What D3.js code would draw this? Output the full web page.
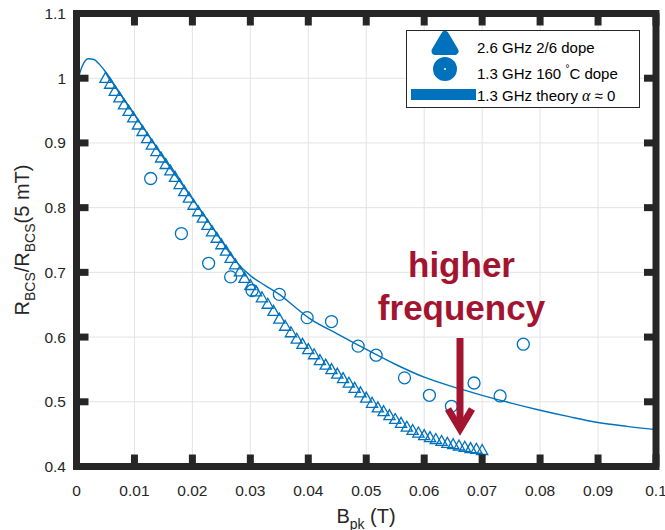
<!DOCTYPE html>
<html>
<head>
<meta charset="utf-8">
<script src="https://cdn.jsdelivr.net/npm/d3@7"></script>
<style>
  body { margin: 0; background: #fff; }
  svg { display: block; font-family: "Liberation Sans", Arial, Helvetica, sans-serif; }
</style>
</head>
<body>
<svg id="chart" width="665" height="530"></svg>
<script>
// Axis ticks
const xTicks = [0, 0.01, 0.02, 0.03, 0.04, 0.05, 0.06, 0.07, 0.08, 0.09, 0.1];
const xTickLabels = ["0", "0.01", "0.02", "0.03", "0.04", "0.05", "0.06", "0.07", "0.08", "0.09", "0.1"];
const yTicks = [0.4, 0.5, 0.6, 0.7, 0.8, 0.9, 1.0, 1.1];
const yTickLabels = ["0.4", "0.5", "0.6", "0.7", "0.8", "0.9", "1", "1.1"];

// 2.6 GHz 2/6 dope: peak field (T) and normalised R_BCS
const triB = [0.0050, 0.0058, 0.0066, 0.0074, 0.0082, 0.0090, 0.0098, 0.0106, 0.0114, 0.0122,
              0.0130, 0.0138, 0.0146, 0.0154, 0.0162, 0.0170, 0.0178, 0.0186, 0.0194, 0.0202,
              0.0210, 0.0218, 0.0226, 0.0234, 0.0242, 0.0250, 0.0258, 0.0266, 0.0274, 0.0282,
              0.0290, 0.030, 0.031, 0.032, 0.033, 0.034, 0.035, 0.036, 0.037, 0.038,
              0.039, 0.040, 0.041, 0.042, 0.043, 0.044, 0.045, 0.046, 0.047, 0.048,
              0.049, 0.050, 0.051, 0.052, 0.053, 0.054, 0.055, 0.056, 0.057, 0.058,
              0.059, 0.060, 0.061, 0.062, 0.063, 0.064, 0.065, 0.066, 0.067, 0.068,
              0.069, 0.070];
const triR = [1.000, 0.991, 0.980, 0.970, 0.959, 0.949, 0.939, 0.928, 0.918, 0.907,
              0.897, 0.887, 0.877, 0.867, 0.857, 0.847, 0.836, 0.825, 0.815, 0.804,
              0.794, 0.784, 0.773, 0.763, 0.753, 0.743, 0.733, 0.722, 0.712, 0.701,
              0.691, 0.680, 0.670, 0.661, 0.651, 0.640, 0.628, 0.617, 0.607, 0.597,
              0.589, 0.581, 0.573, 0.564, 0.557, 0.550, 0.543, 0.536, 0.529, 0.521,
              0.514, 0.506, 0.498, 0.491, 0.485, 0.479, 0.473, 0.467, 0.461, 0.456,
              0.452, 0.448, 0.445, 0.442, 0.439, 0.436, 0.434, 0.432, 0.430, 0.428,
              0.427, 0.425];

// 1.3 GHz 160 C dope
const circB = [0.0128, 0.0181, 0.0228, 0.0266, 0.0303, 0.0350, 0.0398, 0.0440,
               0.0486, 0.0517, 0.0566, 0.0609, 0.0647, 0.0686, 0.0731, 0.0771];
const circR = [0.845, 0.760, 0.714, 0.693, 0.672, 0.666, 0.630, 0.624,
               0.586, 0.572, 0.537, 0.510, 0.493, 0.529, 0.509, 0.589];

// 1.3 GHz theory, alpha ~ 0
const theoryB = [0, 0.001, 0.002, 0.003, 0.004, 0.005, 0.0075, 0.010, 0.0125, 0.015,
                 0.0175, 0.020, 0.0225, 0.025, 0.0275, 0.030, 0.0325, 0.035, 0.0375, 0.040,
                 0.045, 0.050, 0.055, 0.060, 0.065, 0.070, 0.075, 0.080, 0.085, 0.090,
                 0.095, 0.100];
const theoryR = [0.990, 1.019, 1.030, 1.029, 1.021, 1.010, 0.977, 0.944, 0.911, 0.877,
                 0.845, 0.814, 0.782, 0.749, 0.717, 0.695, 0.680, 0.666, 0.648, 0.630,
                 0.605, 0.581, 0.558, 0.538, 0.523, 0.510, 0.498, 0.487, 0.477, 0.468,
                 0.462, 0.457];

const blue = "#0072BD";
const axisColor = "#262626";
const red = "#A2142F";

const svg = d3.select("#chart");
const W = 665, H = 530;
svg.append("rect").attr("width", W).attr("height", H).attr("fill", "#fff");

const x = d3.scaleLinear().domain([0, 0.1]).range([76.5, 656]);
const y = d3.scaleLinear().domain([0.4, 1.1]).range([466.5, 13.5]);

// grid
const grid = svg.append("g").attr("stroke", "#e3e3e3").attr("stroke-width", 1);
grid.selectAll(".gx").data(xTicks).enter().append("line")
  .attr("x1", d => x(d)).attr("x2", d => x(d))
  .attr("y1", y.range()[1]).attr("y2", y.range()[0]);
grid.selectAll(".gy").data(yTicks).enter().append("line")
  .attr("y1", d => y(d)).attr("y2", d => y(d))
  .attr("x1", x.range()[0]).attr("x2", x.range()[1]);

// data layer
const plot = svg.append("g");
const triPath = "M0,-5.8L5.6,4.2L-5.6,4.2Z";
plot.selectAll(".tri").data(triB.map((b, i) => [b, triR[i]])).enter().append("path")
  .attr("d", triPath)
  .attr("transform", d => `translate(${x(d[0])},${y(d[1])})`)
  .attr("fill", "none").attr("stroke", blue).attr("stroke-width", 1.3);

plot.selectAll(".circ").data(circB.map((b, i) => [b, circR[i]])).enter().append("circle")
  .attr("cx", d => x(d[0])).attr("cy", d => y(d[1])).attr("r", 6)
  .attr("fill", "none").attr("stroke", blue).attr("stroke-width", 1.3);

const line = d3.line().x(d => x(d[0])).y(d => y(d[1])).curve(d3.curveMonotoneX);
plot.append("path").datum(theoryB.map((b, i) => [b, theoryR[i]]))
  .attr("d", line).attr("fill", "none").attr("stroke", blue).attr("stroke-width", 1.4);

// axes box with inward ticks
const axes = svg.append("g").attr("stroke", axisColor);
const [x0, x1] = x.range();
const [y0, y1] = y.range();
const tickLen = 12, tickW = 7;
xTicks.forEach(t => {
  axes.append("line").attr("x1", x(t)).attr("x2", x(t)).attr("y1", y0).attr("y2", y0 - tickLen).attr("stroke-width", tickW);
  axes.append("line").attr("x1", x(t)).attr("x2", x(t)).attr("y1", y1).attr("y2", y1 + tickLen).attr("stroke-width", tickW);
});
yTicks.forEach(t => {
  axes.append("line").attr("y1", y(t)).attr("y2", y(t)).attr("x1", x0).attr("x2", x0 + tickLen).attr("stroke-width", tickW);
  axes.append("line").attr("y1", y(t)).attr("y2", y(t)).attr("x1", x1).attr("x2", x1 - tickLen).attr("stroke-width", tickW);
});
axes.append("rect").attr("x", x0).attr("y", y1).attr("width", x1 - x0).attr("height", y0 - y1)
  .attr("fill", "none").attr("stroke-width", 7);

// tick labels
svg.append("g").selectAll("text").data(xTicks).enter().append("text")
  .attr("x", d => x(d)).attr("y", 496).attr("text-anchor", "middle")
  .attr("font-size", 15.5).attr("fill", axisColor)
  .text((d, i) => xTickLabels[i]);
svg.append("g").selectAll("text").data(yTicks).enter().append("text")
  .attr("x", 66).attr("y", d => y(d) + 5.5).attr("text-anchor", "end")
  .attr("font-size", 15.5).attr("fill", axisColor)
  .text((d, i) => yTickLabels[i]);

// axis titles
const xl = svg.append("text").attr("x", 366).attr("y", 523).attr("text-anchor", "middle")
  .attr("font-size", 20).attr("fill", axisColor);
xl.append("tspan").text("B");
xl.append("tspan").attr("font-size", 14).attr("dy", 6).text("pk");
xl.append("tspan").attr("dy", -6).text(" (T)");

const yl = svg.append("text").attr("transform", "translate(29,240) rotate(-90)")
  .attr("text-anchor", "middle").attr("font-size", 20).attr("fill", axisColor);
yl.append("tspan").text("R");
yl.append("tspan").attr("font-size", 14).attr("dy", 6).text("BCS");
yl.append("tspan").attr("dy", -6).text("/R");
yl.append("tspan").attr("font-size", 14).attr("dy", 6).text("BCS");
yl.append("tspan").attr("dy", -6).text("(5 mT)");

// legend
const lg = svg.append("g");
lg.append("rect").attr("x", 406.5).attr("y", 30.5).attr("width", 233).attr("height", 77)
  .attr("fill", "#fff").attr("stroke", axisColor).attr("stroke-width", 1);
lg.append("path").attr("d", "M445,35L454.5,51L435.5,51Z")
  .attr("fill", blue).attr("stroke", blue).attr("stroke-width", 8).attr("stroke-linejoin", "round");
lg.append("circle").attr("cx", 445).attr("cy", 69).attr("r", 8)
  .attr("fill", blue).attr("stroke", blue).attr("stroke-width", 8);
lg.append("circle").attr("cx", 445).attr("cy", 69).attr("r", 1).attr("fill", "#fff");
lg.append("line").attr("x1", 411).attr("x2", 476).attr("y1", 94.5).attr("y2", 94.5)
  .attr("stroke", blue).attr("stroke-width", 11);
const legendLabels = ["2.6 GHz 2/6 dope", "1.3 GHz 160 ", "C dope", "1.3 GHz theory "];
const lt = lg.append("g").attr("font-size", 15).attr("fill", "#000");
lt.append("text").attr("x", 477).attr("y", 53).text(legendLabels[0]);
const t2 = lt.append("text").attr("x", 477).attr("y", 78.5);
t2.append("tspan").text(legendLabels[1]);
t2.append("tspan").attr("font-size", 10).attr("dy", -7).text("\u00B0");
t2.append("tspan").attr("dy", 7).text(legendLabels[2]);
const t3 = lt.append("text").attr("x", 477).attr("y", 100.5);
t3.append("tspan").text(legendLabels[3]);
t3.append("tspan").attr("font-family", "'Liberation Serif', serif").attr("font-style", "italic").attr("font-size", 16).text("\u03B1");
t3.append("tspan").text(" \u2248 0");

// annotation
const ann = svg.append("g").attr("fill", red).attr("font-weight", "bold").attr("font-size", 35).attr("text-anchor", "middle");
ann.append("text").attr("x", 461.5).attr("y", 277).text("higher");
ann.append("text").attr("x", 461.5).attr("y", 320).text("frequency");
const arr = svg.append("g").attr("stroke", red).attr("stroke-width", 7).attr("fill", "none");
arr.append("line").attr("x1", 460).attr("x2", 460).attr("y1", 338).attr("y2", 428);
arr.append("path").attr("d", "M448,409L460,429L472,409").attr("stroke-linejoin", "miter");
</script>
</body>
</html>
